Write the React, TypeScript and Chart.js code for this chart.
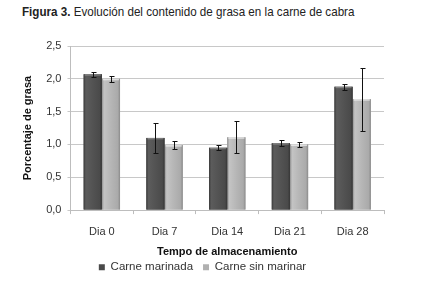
import React, { useEffect, useRef } from "react";
import { Chart, registerables } from "chart.js";

Chart.register(...registerables);

const categories = ["Dia 0", "Dia 7", "Dia 14", "Dia 21", "Dia 28"];
const marinada = [2.07, 1.10, 0.95, 1.02, 1.88];
const marinadaErr = [0.04, 0.23, 0.035, 0.05, 0.045];
const sinMarinar = [2.0, 0.99, 1.11, 1.0, 1.69];
const sinMarinarErr = [0.05, 0.06, 0.245, 0.04, 0.48];
const yTicks = [0, 0.5, 1.0, 1.5, 2.0, 2.5];
const errors = [marinadaErr, sinMarinarErr];

const FONT = "'Liberation Sans', Arial, sans-serif";

const darkStops: [number, string][] = [
  [0, "#3a3a3a"],
  [0.12, "#5c5c5c"],
  [0.5, "#535353"],
  [0.88, "#4a4a4a"],
  [1, "#353535"],
];
const lightStops: [number, string][] = [
  [0, "#8e8e8e"],
  [0.12, "#c4c4c4"],
  [0.5, "#b6b6b6"],
  [0.88, "#aaaaaa"],
  [1, "#8a8a8a"],
];

const shadePlugin = {
  id: "barShade",
  afterDatasetDraw(chart: any, args: any) {
    const ctx = chart.ctx;
    const stops = args.index === 0 ? darkStops : lightStops;
    ctx.save();
    args.meta.data.forEach((bar: any) => {
      const { x, y, base, width } = bar.getProps(["x", "y", "base", "width"], true);
      const l = x - width / 2;
      const g = ctx.createLinearGradient(l, 0, l + width, 0);
      stops.forEach(([o, c]) => g.addColorStop(o, c));
      ctx.fillStyle = g;
      ctx.fillRect(l, y, width, base - y);
      ctx.fillStyle = args.index === 0 ? "rgba(255,255,255,0.25)" : "rgba(255,255,255,0.6)";
      ctx.fillRect(l + 1, y, width - 2, 1.5);
    });
    ctx.restore();
  },
};

const errorPlugin = {
  id: "errorBars",
  afterDatasetsDraw(chart: any) {
    const ctx = chart.ctx;
    const yScale = chart.scales.y;
    ctx.save();
    ctx.strokeStyle = "#111";
    ctx.lineWidth = 1;
    chart.data.datasets.forEach((ds: any, i: number) => {
      const meta = chart.getDatasetMeta(i);
      meta.data.forEach((bar: any, j: number) => {
        const v = ds.data[j];
        const e = errors[i][j];
        const x = Math.round(bar.x) + 0.5;
        const yTop = Math.round(yScale.getPixelForValue(v + e)) + 0.5;
        const yBot = Math.round(yScale.getPixelForValue(v - e)) + 0.5;
        ctx.beginPath();
        ctx.moveTo(x, yTop);
        ctx.lineTo(x, yBot);
        ctx.moveTo(x - 2, yTop);
        ctx.lineTo(x + 3, yTop);
        ctx.moveTo(x - 2, yBot);
        ctx.lineTo(x + 3, yBot);
        ctx.stroke();
      });
    });
    ctx.restore();
  },
};

export default function App() {
  const ref = useRef<HTMLCanvasElement>(null);
  useEffect(() => {
    if (!ref.current) return;
    const chart = new Chart(ref.current, {
      type: "bar",
      data: {
        labels: categories,
        datasets: [
          {
            label: "Carne marinada",
            data: marinada,
            backgroundColor: "#4a4a4a",
            borderWidth: 0,
            categoryPercentage: 0.58,
            barPercentage: 1.0,
          },
          {
            label: "Carne sin marinar",
            data: sinMarinar,
            backgroundColor: "#b0b0b0",
            borderWidth: 0,
            categoryPercentage: 0.58,
            barPercentage: 1.0,
          },
        ],
      },
      options: {
        animation: false,
        responsive: false,
        maintainAspectRatio: false,
        layout: { padding: { top: 46, right: 40, left: 21, bottom: -1 } },
        plugins: {
          tooltip: { enabled: false },
          legend: {
            position: "bottom",
            labels: {
              boxWidth: 6,
              boxHeight: 6,
              padding: 10,
              color: "#333",
              font: { family: FONT, size: 11.5 },
            },
          },
        },
        scales: {
          x: {
            offset: true,
            grid: {
              offset: true,
              drawOnChartArea: false,
              drawTicks: true,
              tickLength: 4,
              color: "#bdbdbd",
            },
            border: { color: "#bdbdbd" },
            ticks: {
              color: "#333",
              padding: 11,
              font: { family: FONT, size: 11 },
            },
            title: {
              display: true,
              text: "Tempo de almacenamiento",
              color: "#111",
              padding: { top: -4, bottom: -7 },
              font: { family: FONT, size: 11, weight: "bold" },
            },
          },
          y: {
            min: 0,
            max: 2.5,
            afterBuildTicks: (scale: any) => {
              scale.ticks = yTicks.map((v) => ({ value: v }));
            },
            grid: { color: "#c8c8c8", tickLength: 3 },
            border: { color: "#bdbdbd" },
            ticks: {
              color: "#333",
              padding: 6,
              font: { family: FONT, size: 11 },
              callback: (v: any) => Number(v).toFixed(1).replace(".", ","),
            },
            title: {
              display: true,
              text: "Porcentaje de grasa",
              color: "#111",
              padding: { top: 0, bottom: 6 },
              font: { family: FONT, size: 11, weight: "bold" },
            },
          },
        },
      },
      plugins: [shadePlugin, errorPlugin],
    });
    return () => chart.destroy();
  }, []);

  return (
    <div style={{ position: "absolute", left: 0, top: 0, width: 424, height: 282, background: "#fff" }}>
      <div
        style={{
          position: "absolute",
          left: 22,
          top: 3,
          fontFamily: "'Liberation Sans', Arial, sans-serif",
          fontSize: 13,
          color: "#222",
          whiteSpace: "nowrap",
          lineHeight: "18px",
          transform: "scaleX(0.895)",
          transformOrigin: "left center",
        }}
      >
        <b>Figura 3.</b> Evolución del contenido de grasa en la carne de cabra
      </div>
      <canvas ref={ref} width={424} height={282} style={{ position: "absolute", left: 0, top: 0 }} />
    </div>
  );
}
